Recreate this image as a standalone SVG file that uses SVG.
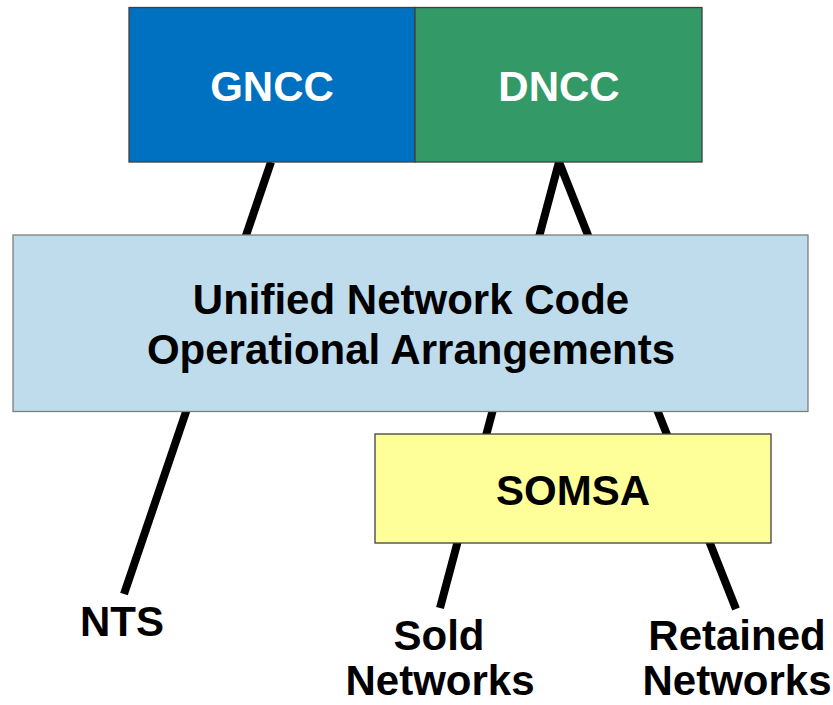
<svg xmlns="http://www.w3.org/2000/svg" width="833" height="705" viewBox="0 0 833 705">
<style>
.box{stroke:#404040;stroke-width:1.3}
.lbl{font-family:"Liberation Sans",Arial,sans-serif;font-weight:bold;font-size:42px;text-anchor:middle}
.conn{stroke:#000;stroke-width:8;fill:none}
</style>
<rect width="833" height="705" fill="#fff"/>
<g id="connectors">
<line class="conn" x1="271" y1="162" x2="124" y2="594"/>
<line class="conn" x1="559" y1="162" x2="440" y2="608"/>
<line class="conn" x1="559" y1="162" x2="736" y2="609"/>
</g>
<g id="gncc">
<rect class="box" x="129" y="7.5" width="286" height="154.5" fill="#0070C0"/>
<text class="lbl" x="272" y="101" fill="#fff">GNCC</text>
</g>
<g id="dncc">
<rect class="box" x="415" y="7.5" width="287" height="154.5" fill="#339966"/>
<text class="lbl" x="559" y="101" fill="#fff">DNCC</text>
</g>
<g id="unc">
<rect x="13" y="235" width="795" height="176.5" fill="#BEDCEC" stroke="#7f7f7f" stroke-width="1.3"/>
<text class="lbl" x="411" y="314">Unified Network Code</text>
<text class="lbl" x="411" y="364">Operational Arrangements</text>
</g>
<g id="somsa">
<rect class="box" x="375" y="434" width="396" height="109" fill="#FFFF99"/>
<text class="lbl" x="573" y="505">SOMSA</text>
</g>
<g id="nts">
<text class="lbl" x="122" y="636">NTS</text>
</g>
<g id="sold">
<text class="lbl" x="439" y="650">Sold</text>
<text class="lbl" x="440" y="695">Networks</text>
</g>
<g id="retained">
<text class="lbl" x="737" y="650">Retained</text>
<text class="lbl" x="737" y="695">Networks</text>
</g>
</svg>
